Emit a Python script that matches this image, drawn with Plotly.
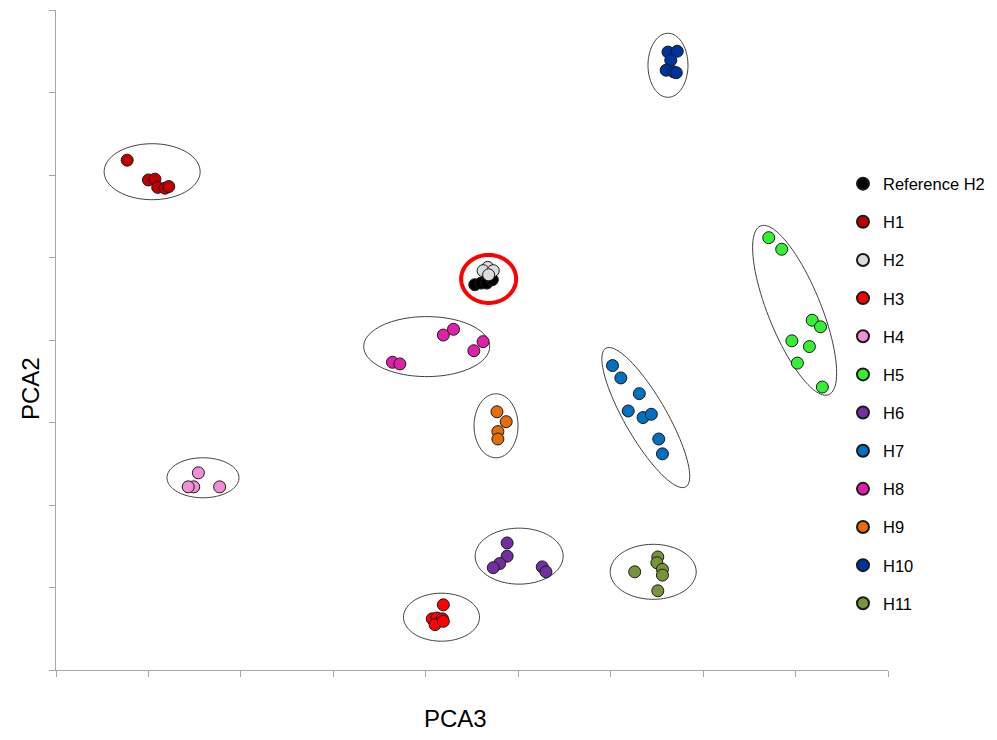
import math
import plotly.graph_objects as go

# ---- data (PCA3 on x, PCA2 on y; arbitrary units) ----
series_names = ["Reference H2", "H1", "H2", "H3", "H4", "H5", "H6", "H7", "H8", "H9", "H10", "H11"]
series_colors = ["#000000", "#C00000", "#DCDCDC", "#FF0000", "#F08ED6", "#33F033",
                 "#7030A0", "#0070C0", "#E020A8", "#E46C0A", "#0033A0", "#77933C"]

ref_h2_x = [4.53, 4.60, 4.66, 4.72]
ref_h2_y = [4.67, 4.69, 4.69, 4.73]
h1_x = [0.77, 1.00, 1.07, 1.10, 1.18, 1.22]
h1_y = [6.18, 5.94, 5.95, 5.85, 5.84, 5.86]
h2_x = [4.67, 4.62, 4.73, 4.68]
h2_y = [4.88, 4.84, 4.84, 4.79]
h3_x = [4.19, 4.07, 4.12, 4.18, 4.10, 4.19]
h3_y = [0.79, 0.62, 0.63, 0.62, 0.55, 0.59]
h4_x = [1.54, 1.49, 1.43, 1.77]
h4_y = [2.39, 2.22, 2.22, 2.22]
h5_x = [7.71, 7.85, 8.18, 8.27, 8.15, 7.96, 8.02, 8.29]
h5_y = [5.24, 5.10, 4.24, 4.16, 3.92, 3.99, 3.72, 3.43]
h6_x = [4.88, 4.88, 4.80, 4.73, 5.26, 5.30]
h6_y = [1.54, 1.38, 1.29, 1.24, 1.25, 1.19]
h7_x = [6.02, 6.11, 6.31, 6.19, 6.35, 6.44, 6.52, 6.56]
h7_y = [3.69, 3.54, 3.35, 3.14, 3.06, 3.10, 2.80, 2.62]
h8_x = [4.19, 4.30, 4.62, 4.52, 3.64, 3.72]
h8_y = [4.06, 4.13, 3.98, 3.87, 3.73, 3.71]
h9_x = [4.77, 4.87, 4.78, 4.78]
h9_y = [3.13, 3.01, 2.89, 2.80]
h10_x = [6.62, 6.72, 6.65, 6.60, 6.68, 6.71]
h10_y = [7.49, 7.50, 7.39, 7.27, 7.25, 7.24]
h11_x = [6.51, 6.50, 6.56, 6.56, 6.26, 6.51]
h11_y = [1.37, 1.30, 1.22, 1.15, 1.19, 0.96]

series_x = [ref_h2_x, h1_x, h2_x, h3_x, h4_x, h5_x, h6_x, h7_x, h8_x, h9_x, h10_x, h11_x]
series_y = [ref_h2_y, h1_y, h2_y, h3_y, h4_y, h5_y, h6_y, h7_y, h8_y, h9_y, h10_y, h11_y]

# cluster outlines: centre (data units), semi-axes (px), screen angle (deg)
ellipse_cx = [1.04, 4.17, 1.59, 7.99, 5.01, 6.38, 4.01, 4.76, 6.62, 6.46]
ellipse_cy = [6.04, 0.64, 2.33, 4.36, 1.38, 3.06, 3.92, 2.96, 7.33, 1.19]
ellipse_a = [48, 38, 36, 91, 44, 80, 63, 22, 20, 43]
ellipse_b = [28, 24, 20, 26.5, 28, 21, 30, 32, 32, 27.5]
ellipse_ang = [0, 0, 0, 68, 0, 60, 0, 0, 0, 0]

highlight_cx, highlight_cy, highlight_a, highlight_b = 4.68, 4.74, 27.5, 24

X_MAX, Y_MAX = 9, 8
PLOT_W, PLOT_H = 832, 660
PXX, PXY = PLOT_W / X_MAX, PLOT_H / Y_MAX


def ellipse_path(cx, cy, a, b, ang_deg, n=90):
    th = math.radians(ang_deg)
    pts = []
    for i in range(n):
        t = 2 * math.pi * i / n
        dx = a * math.cos(t) * math.cos(th) - b * math.sin(t) * math.sin(th)
        dy = a * math.cos(t) * math.sin(th) + b * math.sin(t) * math.cos(th)
        pts.append((cx + dx / PXX, cy - dy / PXY))
    return "M " + " L ".join(f"{x:.4f},{y:.4f}" for x, y in pts) + " Z"


fig = go.Figure()
for i, name in enumerate(series_names):
    fig.add_trace(go.Scatter(
        x=series_x[i], y=series_y[i], mode="markers", name=name,
        legendgroup=name,
        marker=dict(size=12, color=series_colors[i], line=dict(color="#1a1a1a", width=1)),
    ))

shapes = []
for cx, cy, a, b, ang in zip(ellipse_cx, ellipse_cy, ellipse_a, ellipse_b, ellipse_ang):
    shapes.append(dict(type="path", xref="x", yref="y", path=ellipse_path(cx, cy, a, b, ang),
                       line=dict(color="#404040", width=1), layer="below"))
shapes.append(dict(type="path", xref="x", yref="y",
                   path=ellipse_path(highlight_cx, highlight_cy, highlight_a, highlight_b, 0),
                   line=dict(color="#FF0000", width=4), layer="below"))

axis_common = dict(showgrid=False, zeroline=False, showline=True, linecolor="#A6A6A6", linewidth=1,
                   ticks="outside", ticklen=6, tickcolor="#A6A6A6", tickwidth=1,
                   showticklabels=False, dtick=1)

# page body has an 8px margin, so the figure is sized/offset to compensate
fig.update_layout(
    width=989, height=732,
    margin=dict(l=48, r=109, t=2, b=70, autoexpand=False),
    paper_bgcolor="white", plot_bgcolor="white",
    font=dict(family="Liberation Sans, Arial, sans-serif", color="#000000"),
    xaxis=dict(range=[0, X_MAX], **axis_common),
    yaxis=dict(range=[0, Y_MAX], **axis_common),
    shapes=shapes,
    showlegend=True,
    legend=dict(x=0.9459, xanchor="left", y=0.763, yanchor="top",
                font=dict(size=16.5, family="Liberation Sans, Arial, sans-serif"),
                traceorder="grouped", tracegroupgap=13.7, bgcolor="rgba(0,0,0,0)",
                itemsizing="constant"),
    annotations=[
        dict(text="PCA3", xref="paper", yref="paper", x=(455 - 56) / PLOT_W, y=(670 - 718) / PLOT_H,
             showarrow=False, font=dict(size=24), xanchor="center", yanchor="middle"),
        dict(text="PCA2", xref="paper", yref="paper", x=(30 - 56) / PLOT_W, y=(670 - 389) / PLOT_H,
             showarrow=False, font=dict(size=24), textangle=-90, xanchor="center", yanchor="middle"),
    ],
)

fig.write_html("out.html")
